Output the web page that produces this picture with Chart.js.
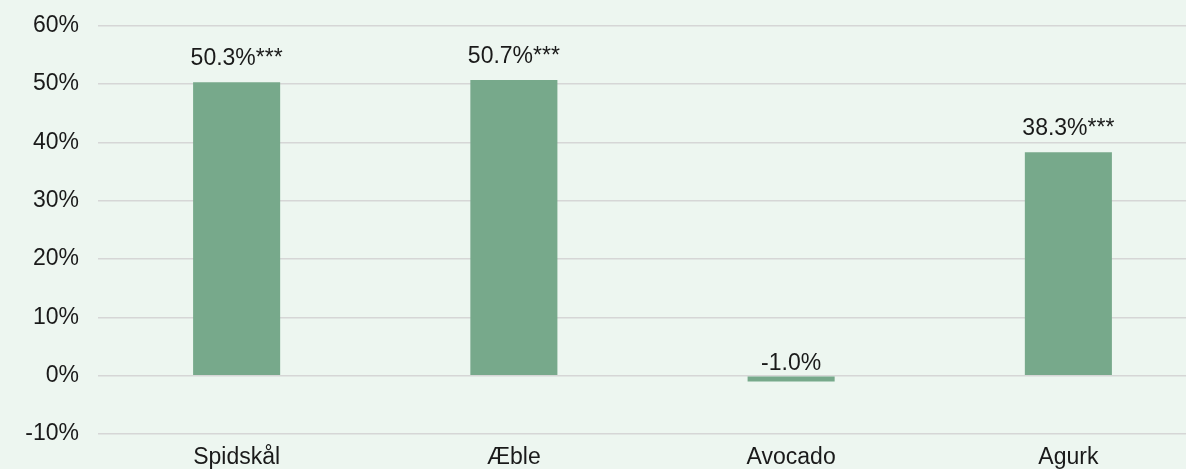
<!doctype html>
<html>

<head>
	<meta charset="utf-8">
	<title>Bar Chart</title>
	<script src="https://cdn.jsdelivr.net/npm/chart.js@4"></script>
	<style>
		html, body {
			margin: 0;
			padding: 0;
			overflow: hidden;
			background: #edf6f0;
		}
		#wrap {
			position: absolute;
			left: 0;
			top: -7px;
			width: 1210px;
			height: 487px;
		}
	</style>
</head>

<body>
	<div id="wrap">
		<canvas id="canvas"></canvas>
	</div>
	<script>
		var categories = ['Spidskål', 'Æble', 'Avocado', 'Agurk'];
		var values = [50.3, 50.7, -1.0, 38.3];
		var significance = ['***', '***', '', '***'];
		var yTicks = [-10, 0, 10, 20, 30, 40, 50, 60];

		var FONT = 'Liberation Sans, Arial, Helvetica, sans-serif';

		// draws the value labels over the bars
		var valueLabels = {
			id: 'valueLabels',
			afterDatasetsDraw: function(chart) {
				var ctx = chart.ctx;
				var meta = chart.getDatasetMeta(0);
				var yScale = chart.scales.y;
				ctx.save();
				ctx.font = '23px ' + FONT;
				ctx.fillStyle = '#1a1a1a';
				ctx.textAlign = 'center';
				ctx.textBaseline = 'alphabetic';
				meta.data.forEach(function(bar, i) {
					var v = values[i];
					var y = v >= 0 ? bar.y - 17 : yScale.getPixelForValue(0) - 6;
					ctx.fillText(v.toFixed(1) + '%' + significance[i], bar.x, y);
				});
				ctx.restore();
			}
		};

		var config = {
			type: 'bar',
			data: {
				labels: categories,
				datasets: [{
					data: values,
					backgroundColor: '#77a98b',
					borderWidth: 0,
					categoryPercentage: 1.0,
					barPercentage: 0.314
				}]
			},
			options: {
				responsive: true,
				maintainAspectRatio: false,
				animation: false,
				layout: {
					padding: { top: 19, right: 3, left: 0, bottom: 0 }
				},
				plugins: {
					legend: { display: false },
					tooltip: { enabled: false }
				},
				scales: {
					x: {
						grid: { display: false, drawTicks: false },
						border: { display: false },
						ticks: {
							color: '#1a1a1a',
							font: { family: FONT, size: 23 },
							padding: 10,
							maxRotation: 0
						},
						afterFit: function(scale) { scale.height = 46; }
					},
					y: {
						min: -10,
						max: 60,
						afterBuildTicks: function(scale) {
							scale.ticks = yTicks.map(function(v) { return { value: v }; });
						},
						grid: { color: '#d6d6d6', lineWidth: 1.5, drawTicks: false },
						border: { display: false },
						ticks: {
							color: '#1a1a1a',
							font: { family: FONT, size: 23 },
							padding: 19,
							callback: function(v) { return v + '%'; }
						},
						afterFit: function(scale) { scale.width = 98; }
					}
				}
			},
			plugins: [valueLabels]
		};

		window.onload = function() {
			window.myBar = new Chart(document.getElementById('canvas'), config);
		};
	</script>
</body>

</html>
